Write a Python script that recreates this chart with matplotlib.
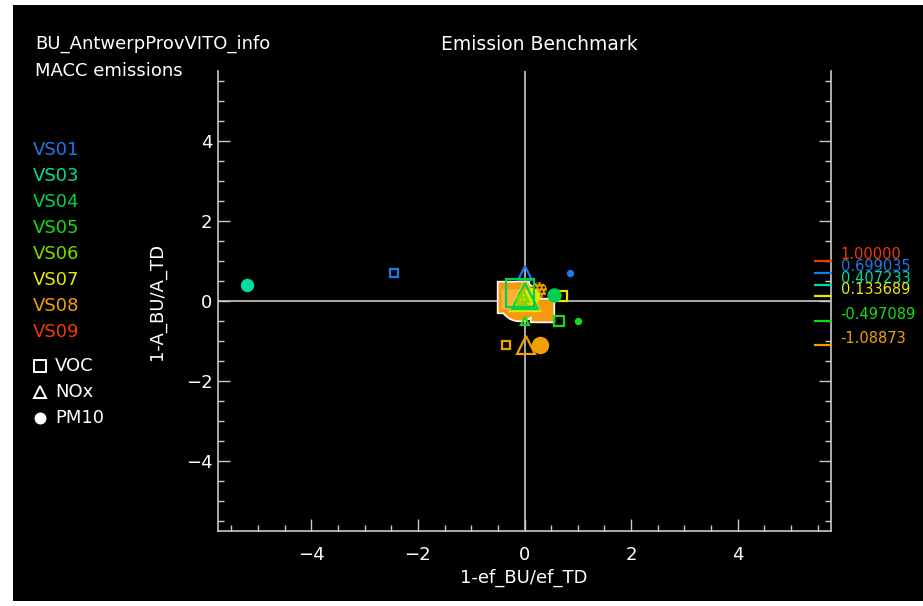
import numpy as np
import matplotlib
matplotlib.use('Agg')
import matplotlib.pyplot as plt
from matplotlib.lines import Line2D
from matplotlib.patches import Rectangle

# sources and their colours
sources = ['VS01', 'VS03', 'VS04', 'VS05', 'VS06', 'VS07', 'VS08', 'VS09']
src_color = ['#1e78e6', '#00dca0', '#00d250', '#14dc14', '#78dc00', '#e6e600', '#f0a000', '#f03c00']

# 1-A_BU/A_TD per source (printed at the right side)
lab_src = ['VS09', 'VS01', 'VS03', 'VS07', 'VS05', 'VS08']
lab_val = [1.00000, 0.699035, 0.407233, 0.133689, -0.497089, -1.08873]

# benchmark points: source, pollutant, 1-ef_BU/ef_TD, 1-A_BU/A_TD
pt_src = ['VS03', 'VS01', 'VS01', 'VS01', 'VS05', 'VS05', 'VS05',
          'VS08', 'VS08', 'VS08', 'VS07', 'VS07', 'VS07',
          'VS04', 'VS04', 'VS04', 'VS06', 'VS06']
pt_pol = ['PM10', 'VOC', 'NOx', 'PM10', 'VOC', 'PM10', 'NOx',
          'VOC', 'NOx', 'PM10', 'VOC', 'PM10', 'NOx',
          'VOC', 'NOx', 'PM10', 'VOC', 'NOx']
pt_x = [-5.21, -2.45, 0.0, 0.85, 0.65, 1.0, 0.0,
        -0.35, 0.02, 0.30, 0.70, 0.12, 0.0,
        -0.08, 0.0, 0.55, -0.05, -0.02]
pt_y = [0.407233, 0.699035, 0.699035, 0.699035, -0.497089, -0.497089, -0.497089,
        -1.08873, -1.08873, -1.08873, 0.133689, 0.133689, 0.133689,
        0.19, 0.12, 0.15, 0.0, 0.12]
# symbol size in pixels
pt_size = [12, 9, 15, 6, 11, 6, 9,
           8, 18, 16, 11, 16, 30,
           28, 27, 13, 8, 12]

# large filled blobs near the origin (orange, white outline)
blob_x = [-0.21, -0.10, 0.32]
blob_y = [0.10, 0.0, -0.22]
blob_size = [30, 38, 22]
blob_mark = ['s', 'o', 's']

marker_of = {'VOC': 's', 'NOx': '^', 'PM10': 'o'}
px = 1 / 1.389  # pixels -> points at 100 dpi

fig = plt.figure(figsize=(9.23, 6.06), dpi=100)
fig.patch.set_facecolor('white')
fig.add_artist(Rectangle((13 / 923, 1 - 601 / 606), 910 / 923, 596 / 606,
                         transform=fig.transFigure, facecolor='black', edgecolor='none', zorder=-5))

ax = fig.add_axes([218 / 923, 1 - 531 / 606, 613 / 923, 460 / 606])
ax.set_facecolor('black')
ax.set_xlim(-5.75, 5.75)
ax.set_ylim(-5.75, 5.75)

gray = '#c8c8c8'
for s in ['left', 'bottom', 'right']:
    ax.spines[s].set_color(gray)
    ax.spines[s].set_linewidth(1.2)
ax.spines['top'].set_visible(False)

ax.set_xticks([-4, -2, 0, 2, 4])
ax.set_yticks([-4, -2, 0, 2, 4])
ax.set_xticks(np.arange(-5.5, 5.6, 0.5), minor=True)
ax.set_yticks(np.arange(-5.5, 5.6, 0.5), minor=True)
ax.tick_params(which='both', direction='in', colors=gray, labelcolor='white',
               labelsize=13, right=True, top=False)
ax.tick_params(which='major', length=8.5, width=1)
ax.tick_params(which='minor', length=4.5, width=1)
ax.tick_params(axis='x', pad=11)
ax.tick_params(axis='y', pad=4)
ax.tick_params(axis='y', which='both', labelright=False)

ax.axhline(0, color=gray, lw=1.2, zorder=1)
ax.axvline(0, color=gray, lw=1.2, zorder=1)

# blobs: white outline underneath, orange fill on top
for x, y, s, m in zip(blob_x, blob_y, blob_size, blob_mark):
    ax.plot(x, y, m, ms=(s + 2) * px, mfc='white', mec='white', zorder=2)
for x, y, s, m in zip(blob_x, blob_y, blob_size, blob_mark):
    ax.plot(x, y, m, ms=s * px, mfc='#f59a10', mec='none', zorder=3)
ax.plot(-0.25, 0.05, 's', ms=20 * px, mfc='#ffb040', mec='none', zorder=3)

# dotted orange disc
ax.scatter([0.27], [0.27], s=(16 * px) ** 2, facecolor='#f0a000', edgecolor='black',
           hatch='....', linewidths=0, zorder=4)

for s, p, x, y, sz in zip(pt_src, pt_pol, pt_x, pt_y, pt_size):
    c = src_color[sources.index(s)]
    m = marker_of[p]
    if p == 'PM10':
        ax.plot(x, y, m, ms=sz * px, mfc=c, mec=c, zorder=5)
    else:
        ax.plot(x, y, m, ms=sz * px, mfc='none', mec=c, mew=1.6, zorder=5)

# per-source values at the right
for s, v in zip(lab_src, lab_val):
    c = src_color[sources.index(s)]
    ax.plot([5.45, 5.75], [v, v], color=c, lw=1.6, clip_on=False, zorder=6)
    ax.text(5.93, v - 0.03, '%#.6g' % v, color=c, fontsize=10.5, ha='left', va='bottom',
            clip_on=False)

# texts around the plot
fig.text(35 / 923, 1 - 44 / 606, 'BU_AntwerpProvVITO_info', color='white', fontsize=13, va='center')
fig.text(35 / 923, 1 - 71 / 606, 'MACC emissions', color='white', fontsize=13, va='center')
fig.text(539 / 923, 1 - 44 / 606, 'Emission Benchmark', color='white', fontsize=13.5,
         ha='center', va='center')
fig.text(524 / 923, 1 - 578 / 606, '1-ef_BU/ef_TD', color='white', fontsize=13,
         ha='center', va='center')
fig.text(157 / 923, 1 - 301 / 606, '1-A_BU/A_TD', color='white', fontsize=13,
         ha='center', va='center', rotation=90)

# legend: sources
for i, (s, c) in enumerate(zip(sources, src_color)):
    fig.text(33 / 923, 1 - (150 + 26 * i) / 606, s, color=c, fontsize=13, va='center')

# legend: pollutants
leg_pol = ['VOC', 'NOx', 'PM10']
for i, p in enumerate(leg_pol):
    yy = 1 - (366 + 26 * i) / 606
    filled = p == 'PM10'
    fig.add_artist(Line2D([40 / 923], [yy], transform=fig.transFigure, marker=marker_of[p],
                          ms=(10 if filled else 12) * px, mfc='white' if filled else 'none',
                          mec='white', mew=1.4, ls='none'))
    fig.text(55 / 923, yy, p, color='white', fontsize=13, va='center')

fig.savefig('out.png', dpi=100, facecolor=fig.get_facecolor())
